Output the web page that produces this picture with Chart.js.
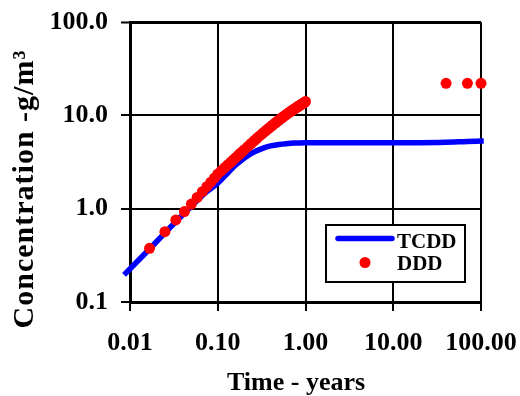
<!DOCTYPE html>
<html>
<head>
<meta charset="utf-8">
<script src="https://cdn.jsdelivr.net/npm/chart.js@4.4.1/dist/chart.umd.min.js"></script>
<style>
  html, body { margin: 0; padding: 0; background: #fff; }
</style>
</head>
<body>
<canvas id="concChart" width="520" height="396"></canvas>
<script>
// axis ticks (decades only)
const xTickValues = [0.01, 0.1, 1, 10, 100];
const yTickValues = [0.1, 1, 10, 100];

// TCDD - solid blue curve
const tcddTime = [0.009, 0.0125, 0.0167, 0.025, 0.035, 0.05, 0.07, 0.1, 0.125, 0.15, 0.18, 0.22, 0.27, 0.33, 0.4, 0.5, 0.6, 0.75, 1.0, 2, 5, 10, 20, 40, 70, 100];
const tcddConc = [0.205, 0.28, 0.37, 0.55, 0.76, 1.06, 1.44, 1.87, 2.32, 2.78, 3.22, 3.7, 4.12, 4.46, 4.7, 4.88, 4.97, 5.04, 5.08, 5.1, 5.1, 5.1, 5.1, 5.15, 5.25, 5.3];

// DDD - red dots
const dddTime = [0.0167, 0.025, 0.0333, 0.0417, 0.05, 0.0583, 0.0667, 0.075, 0.0833, 0.0917, 0.1,
  0.11, 0.12, 0.13, 0.14, 0.15, 0.16, 0.17, 0.18, 0.19, 0.2, 0.22, 0.24, 0.26, 0.28, 0.3,
  0.32, 0.34, 0.36, 0.38, 0.4, 0.42, 0.44, 0.46, 0.48, 0.5, 0.52, 0.54, 0.56, 0.58, 0.6,
  0.62, 0.64, 0.66, 0.68, 0.7, 0.72, 0.74, 0.76, 0.78, 0.8, 0.82, 0.84, 0.86, 0.88, 0.9,
  0.92, 0.94, 0.96, 0.98, 1.0, 40, 70, 100];
const dddConc = [0.376, 0.567, 0.757, 0.93, 1.12, 1.32, 1.52, 1.72, 1.92, 2.13, 2.35,
  2.55, 2.75, 2.94, 3.14, 3.33, 3.52, 3.71, 3.9, 4.08, 4.27, 4.63, 4.99, 5.34, 5.68, 6.01,
  6.33, 6.64, 6.95, 7.25, 7.54, 7.83, 8.11, 8.38, 8.65, 8.91, 9.17, 9.42, 9.67, 9.91, 10.15,
  10.38, 10.6, 10.82, 11.03, 11.24, 11.44, 11.64, 11.84, 12.03, 12.22, 12.41, 12.59, 12.77, 12.95, 13.12,
  13.29, 13.46, 13.63, 13.8, 14.1, 22, 22, 22];

const seriesNames = ['TCDD', 'DDD'];
const xTitle = 'Time - years';
const yTitle = 'Concentration -g/m\u00B3';

const serif = "'Liberation Serif', 'Times New Roman', serif";

function toPoints(xs, ys) {
    return xs.map((x, i) => ({ x: x, y: ys[i] }));
}

// fixed axis box, no extra room for overhanging labels
function fixScale(size) {
    return (scale) => {
        if (scale.isHorizontal()) {
            scale.height = size;
        } else {
            scale.width = size;
        }
        scale.paddingTop = 0;
        scale.paddingBottom = 0;
        scale.paddingLeft = 0;
        scale.paddingRight = 0;
    };
}

// axis titles and the boxed legend, drawn on the canvas
const decorations = {
    id: 'decorations',
    afterDatasetsDraw(chart) {
        const ctx = chart.ctx;
        const ds = chart.data.datasets;
        ctx.save();

        // legend box
        ctx.fillStyle = '#fff';
        ctx.fillRect(326, 225, 139, 57);
        ctx.strokeStyle = '#000';
        ctx.lineWidth = 2;
        ctx.strokeRect(326, 225, 139, 57);

        ctx.strokeStyle = ds[0].borderColor;
        ctx.lineWidth = 5.5;
        ctx.lineCap = 'round';
        ctx.beginPath();
        ctx.moveTo(338, 238.5);
        ctx.lineTo(392, 238.5);
        ctx.stroke();

        ctx.fillStyle = ds[1].backgroundColor;
        ctx.beginPath();
        ctx.arc(365, 262.5, 5.5, 0, Math.PI * 2);
        ctx.fill();

        ctx.fillStyle = '#000';
        ctx.font = 'bold 21px ' + serif;
        ctx.textBaseline = 'alphabetic';
        ctx.textAlign = 'left';
        ctx.fillText(ds[0].label, 397, 248);
        ctx.fillText(ds[1].label, 397, 270);

        // x title
        ctx.font = 'bold 26px ' + serif;
        ctx.textAlign = 'center';
        ctx.fillText(xTitle, 296, 390);

        // y title
        ctx.translate(33, 189);
        ctx.rotate(-Math.PI / 2);
        ctx.font = 'bold 30px ' + serif;
        ctx.letterSpacing = '1px';
        ctx.fillText(yTitle, 0, 0);
        ctx.restore();
    }
};

const ctx = document.getElementById('concChart');
new Chart(ctx, {
    type: 'scatter',
    data: {
        datasets: [{
            label: seriesNames[0],
            data: toPoints(tcddTime, tcddConc),
            showLine: true,
            borderColor: '#0000ff',
            backgroundColor: '#0000ff',
            borderWidth: 5.5,
            borderCapStyle: 'square',
            pointRadius: 0,
            cubicInterpolationMode: 'monotone',
            clip: false,
            order: 1
        }, {
            label: seriesNames[1],
            data: toPoints(dddTime, dddConc),
            showLine: false,
            borderColor: '#ff0000',
            backgroundColor: '#ff0000',
            borderWidth: 0,
            pointRadius: 5.5,
            clip: false,
            order: 0
        }]
    },
    options: {
        responsive: false,
        animation: false,
        devicePixelRatio: 1,
        layout: { padding: { left: 0, top: 22, right: 39, bottom: 0 } },
        plugins: {
            legend: { display: false },
            tooltip: { enabled: false }
        },
        scales: {
            x: {
                type: 'logarithmic',
                min: 0.01,
                max: 100,
                afterBuildTicks: (scale) => { scale.ticks = xTickValues.map(v => ({ value: v })); },
                afterFit: fixScale(94),
                grid: {
                    color: '#000',
                    lineWidth: 2,
                    tickLength: 9,
                    tickColor: '#000',
                    tickWidth: 2
                },
                border: { display: true, color: '#000', width: 3 },
                ticks: {
                    color: '#000',
                    padding: 17,
                    maxRotation: 0,
                    font: { family: serif, size: 26, weight: 'bold' },
                    callback: (v) => Number(v).toFixed(2)
                }
            },
            y: {
                type: 'logarithmic',
                min: 0.1,
                max: 100,
                afterBuildTicks: (scale) => { scale.ticks = yTickValues.map(v => ({ value: v })); },
                afterFit: fixScale(130),
                grid: {
                    color: '#000',
                    lineWidth: (c) => (c.tick && c.tick.value === 100 ? 3 : 2),
                    tickLength: 9,
                    tickColor: '#000',
                    tickWidth: 2
                },
                border: { display: true, color: '#000', width: 3 },
                ticks: {
                    color: '#000',
                    padding: 13,
                    font: { family: serif, size: 26, weight: 'bold' },
                    callback: (v) => Number(v).toFixed(1)
                }
            }
        }
    },
    plugins: [decorations]
});
</script>
</body>
</html>
